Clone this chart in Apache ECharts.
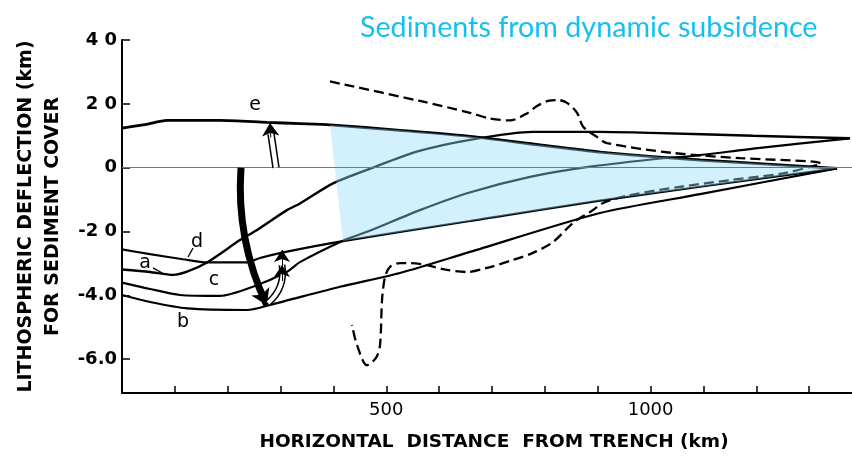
<!DOCTYPE html>
<html>
<head>
<meta charset="utf-8">
<script src="https://cdn.jsdelivr.net/npm/echarts@6/dist/echarts.min.js"></script>
<style>
  html, body { margin: 0; padding: 0; background: #fff; }
  #chart { width: 852px; height: 458px; }
</style>
</head>
<body>
<div id="chart"></div>
<script>
// Lithospheric deflection profiles (km) against distance from the trench (km)
const curveA = [[0,-3.19],[53,-3.27],[96.5,-3.36],[123,-3.26],[160.8,-2.97],[223.2,-2.27],[255.4,-1.95],[312,-1.33],[336.7,-1.12],[399.2,-0.49],[474.8,0],[557.5,0.50],[658.3,0.87],[777,1.12],[904,1.12],[1000,1.09],[1194,1.0],[1377,0.92]];
const curveB = [[0,-3.99],[53,-4.21],[123,-4.41],[236.5,-4.46],[280,-4.30],[412.4,-3.73],[525.9,-3.30],[658.3,-2.64],[904.3,-1.42],[1093.5,-0.83],[1352.6,-0.02]];
const curveC = [[0,-3.60],[53,-3.80],[109.7,-3.99],[185.4,-4.02],[247.8,-3.73],[312.1,-3.26],[336.7,-2.96],[418,-2.29],[463.5,-2.01],[563.7,-1.33],[652.7,-0.80],[771.9,-0.29],[885.4,0.03],[1023.5,0.295],[1068.9,0.345],[1207,0.62],[1377,0.92]];
const curveD = [[0,-2.56],[53,-2.71],[115.4,-2.87],[160.8,-2.97],[236.5,-2.97],[261,-2.83],[312.1,-2.63],[418,-2.30],[658.3,-1.67],[904.3,-1.03],[1352.6,-0.02]];
const curveE = [[0,1.24],[43.5,1.35],[85.1,1.48],[185.4,1.48],[274.3,1.42],[336.7,1.38],[393.5,1.34],[525.9,1.17],[658.3,0.98],[790.8,0.71],[904.3,0.49],[1093.5,0.24],[1352.6,-0.02]];

// Dashed profile, traced in drawing order
const dashedProfile = [[393.5,2.70],[563.7,2.09],[658.3,1.72],[696.2,1.54],[734,1.48],[766.2,1.70],[785.1,1.93],[805.9,2.09],[824.8,2.12],[841.9,2.03],[860.8,1.72],[872.1,1.29],[898.6,0.96],[917.5,0.77],[1042.4,0.46],[1169.1,0.30],[1307.2,0.19],[1322.4,0.13],[1307.2,0.05],[1250.5,-0.18],[1150.2,-0.39],[1055.6,-0.60],[961,-0.86],[913.7,-1.08],[885.4,-1.39],[853.2,-1.73],[815.4,-2.33],[777.5,-2.67],[739.7,-2.89],[690.5,-3.14],[652.7,-3.27],[607.3,-3.18],[577,-3.05],[544.8,-2.99],[525.9,-2.99],[507,-3.11],[497.5,-3.43],[491.9,-4.15],[488.1,-5.56],[480.5,-5.96],[463.5,-6.19],[444.6,-5.56],[435.1,-4.93]];

// Sediment wedge: bounded above by curve e and below by curve d
const wedgeTop = curveE.filter(p => p[0] >= 393.5);
const wedgeBottom = curveD.filter(p => p[0] >= 418 && p[0] < 1352).reverse();
const wedge = wedgeTop.concat(wedgeBottom);

// Curve tags and their leader lines
const curveTags = ['a', 'b', 'c', 'd', 'e'];
const tagPos = [[43.5,-3.0],[115.4,-4.83],[174,-3.52],[141.9,-2.32],[251.6,1.965]];
const leaderLines = [[[58.6,-3.14],[79.5,-3.33]], [[134.3,-2.52],[124.9,-2.80]]];

// Arrows: loading (down) and rebound (up)
const loadArrow = [[225.1,0],[273.7,-4.30]];
const uplift = [[291.3,0],[281.9,1.06]];
const upliftHead = [[281.5,0.95],[280,1.40]];
const rebound = [[276.2,-4.24],[302.7,-3.05]];
const reboundHeads = [[[302.7,-3.55],[302.7,-3.05]], [[302.7,-3.05],[302.7,-2.58]]];

// Axis ticks and labels
const xTicks = [100,200,300,400,500,600,700,800,900,1000,1100,1200,1300];
const xLabelValues = [500, 1000];
const yTickValues = [-6,-4,-2,0,2,4];
const yTickLabels = ['-6.0','-4.0','-2 0','0','2 0','4 0'];

const tickFont = 'DejaVu Sans';

function curve(data, width) {
  return {
    type: 'line', data: data, showSymbol: false, smooth: 0.25, z: 2,
    lineStyle: { color: '#000', width: width }
  };
}

function arrowLines(coordsList, opts) {
  return {
    type: 'lines', coordinateSystem: 'cartesian2d', z: opts.z || 5,
    symbol: opts.symbol || 'none', symbolSize: opts.symbolSize || 0,
    lineStyle: { color: opts.color || '#000', width: opts.width, curveness: opts.curveness || 0, opacity: 1 },
    data: coordsList.map(c => ({ coords: c }))
  };
}

const chart = echarts.init(document.getElementById('chart'), null, { renderer: 'canvas' });

const option = {
  animation: false,
  backgroundColor: '#fff',
  title: {
    text: 'Sediments from dynamic subsidence',
    left: 355, top: 8,
    textStyle: { color: '#17BEF0', fontFamily: 'Lato', fontSize: 28.7, fontWeight: 'normal' }
  },
  grid: { left: 122, right: 0, top: 40, bottom: 65 },
  xAxis: {
    type: 'value', min: 0, max: 1381,
    name: 'HORIZONTAL  DISTANCE  FROM TRENCH (km)',
    nameLocation: 'middle', nameGap: 40,
    nameTextStyle: { fontFamily: 'DejaVu Sans', fontSize: 18.5, fontWeight: 'bold', color: '#000', padding: [0, 0, 0, 14] },
    axisLine: { show: true, onZero: false, lineStyle: { color: '#000', width: 2 } },
    axisTick: { show: true, inside: true, length: 7, customValues: xTicks, lineStyle: { color: '#000', width: 1.5 } },
    axisLabel: { customValues: xLabelValues, margin: 8, fontFamily: tickFont, fontSize: 18, color: '#000', formatter: v => String(v) },
    splitLine: { show: false }
  },
  yAxis: {
    type: 'value', min: -7.06, max: 4,
    name: 'LITHOSPHERIC DEFLECTION (km)\nFOR SEDIMENT COVER',
    nameLocation: 'middle', nameRotate: 90, nameGap: 51,
    nameTextStyle: { fontFamily: 'DejaVu Sans', fontSize: 19, fontWeight: 'bold', lineHeight: 27, color: '#000' },
    axisLine: { show: true, onZero: false, lineStyle: { color: '#000', width: 2 } },
    axisTick: { show: true, inside: true, length: 8, customValues: yTickValues, lineStyle: { color: '#000', width: 1.5 } },
    axisLabel: {
      customValues: yTickValues, margin: 5,
      fontFamily: tickFont, fontSize: 18, fontWeight: 'bold', color: '#000',
      formatter: v => yTickLabels[yTickValues.indexOf(v)]
    },
    splitLine: { show: false }
  },
  series: [
    Object.assign(curve(curveE, 2.8), {
      markLine: {
        silent: true, symbol: 'none', label: { show: false },
        lineStyle: { color: '#777', width: 1, type: 'solid' },
        data: [{ yAxis: 0 }]
      }
    }),
    curve(curveA, 2.4),
    curve(curveB, 2.2),
    curve(curveC, 2.2),
    curve(curveD, 2.2),
    {
      type: 'line', data: dashedProfile, showSymbol: false, smooth: 0.3, z: 2,
      lineStyle: { color: '#000', width: 2.3, type: [10, 5] }
    },
    {
      type: 'custom', z: 3, data: wedge,
      renderItem: function (params, api) {
        if (params.dataIndex !== 0) return null;
        return {
          type: 'polygon',
          shape: { points: wedge.map(p => api.coord(p)) },
          style: { fill: 'rgba(148,218,250,0.41)' }
        };
      }
    },
    // loading arrow
    arrowLines([loadArrow], { width: 7, curveness: -0.13, symbol: ['none', 'arrow'], symbolSize: [0, 15] }),
    // uplift arrow toward curve e (double shaft)
    arrowLines([uplift], { width: 7.5 }),
    arrowLines([uplift], { width: 4.5, color: '#fff', z: 6 }),
    arrowLines([upliftHead], { width: 1, symbol: ['none', 'arrow'], symbolSize: [0, 13], z: 7 }),
    // rebound arrow (double shaft, two heads)
    arrowLines([rebound], { width: 7, curveness: -0.28 }),
    arrowLines([rebound], { width: 4, color: '#fff', curveness: -0.28, z: 6 }),
    arrowLines(reboundHeads, { width: 1, symbol: ['none', 'arrow'], symbolSize: [0, 12], z: 7 }),
    // leader lines for tags
    arrowLines(leaderLines, { width: 1.3 }),
    {
      type: 'scatter', z: 8, symbolSize: 0,
      itemStyle: { opacity: 1 },
      data: tagPos.map((p, i) => ({ name: curveTags[i], value: p })),
      label: {
        show: true, position: 'inside', formatter: '{b}',
        fontFamily: 'DejaVu Sans', fontSize: 19, color: '#000', opacity: 1
      }
    }
  ]
};

chart.setOption(option);
</script>
</body>
</html>
